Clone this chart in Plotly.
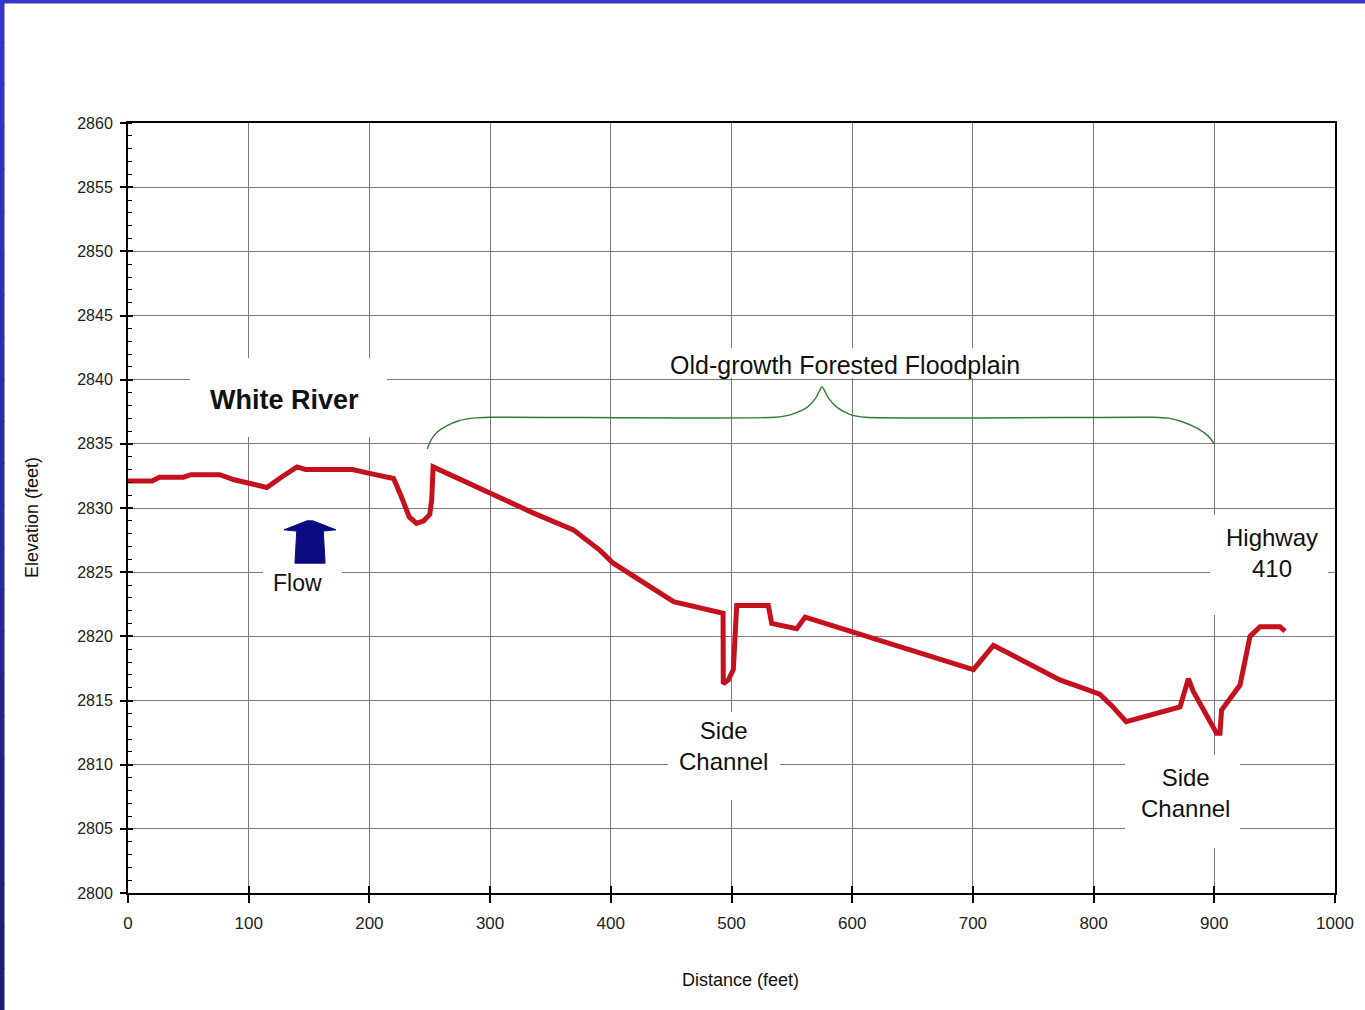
import plotly.graph_objects as go

# ---------------- data ----------------
distance = [0, 20, 26, 46, 52, 76, 88, 102, 115, 127, 140, 147, 186, 200, 220, 226, 233, 239, 245, 250,
            251.6, 252.8, 303, 336, 369, 391, 402, 452, 493, 493.2, 497.4, 501.5, 504.3, 530.5, 533.3,
            554, 561, 598, 700.4, 717, 772, 790, 805, 815, 827, 871.6, 878.5, 882.6, 901.9, 904.7, 906,
            921.3, 929.6, 937.9, 954.4, 958.6]
elevation = [2832.1, 2832.1, 2832.4, 2832.4, 2832.6, 2832.6, 2832.2, 2831.9, 2831.6, 2832.4, 2833.2,
             2833.0, 2833.0, 2832.7, 2832.3, 2831.0, 2829.3, 2828.8, 2829.0, 2829.5,
             2830.6, 2833.2, 2831.0, 2829.6, 2828.3, 2826.7, 2825.7, 2822.7, 2821.8, 2816.3, 2816.6,
             2817.4, 2822.4, 2822.4, 2821.0, 2820.6, 2821.5, 2820.4, 2817.4, 2819.3, 2816.6, 2816.0,
             2815.5, 2814.6, 2813.35, 2814.5, 2816.7, 2815.7, 2812.45, 2812.45, 2814.25, 2816.2, 2820.0,
             2820.75, 2820.75, 2820.4]

brace_x = [248, 251, 256, 264, 274, 286, 300, 536, 550, 562, 570, 575, 580, 588, 598, 611,
           850, 862, 874, 886, 895, 900]
brace_y = [2834.6, 2835.3, 2835.9, 2836.4, 2836.8, 2837.0, 2837.07, 2837.07, 2837.3, 2837.8, 2838.6,
           2839.45, 2838.6, 2837.8, 2837.3, 2837.07, 2837.07, 2837.0, 2836.7, 2836.2, 2835.6, 2835.0]

x_ticks = [0, 100, 200, 300, 400, 500, 600, 700, 800, 900, 1000]
y_ticks = [2800, 2805, 2810, 2815, 2820, 2825, 2830, 2835, 2840, 2845, 2850, 2855, 2860]

# ---------------- layout geometry ----------------
W, H = 1365, 1010
L, R, T, B = 128, 30, 123, 117
PW, PH = W - L - R, H - T - B
X0, X1, Y0, Y1 = 0, 1000, 2800, 2860


def px2x(p):
    return X0 + (p - L) / PW * (X1 - X0)


def py2y(p):
    return Y1 - (p - T) / PH * (Y1 - Y0)


def pxpaper(p):
    return (p - L) / PW


def pypaper(p):
    return (H - B - p) / PH


FONT = "Arial, Liberation Sans, sans-serif"

fig = go.Figure()

fig.add_trace(go.Scatter(x=brace_x, y=brace_y, mode="lines",
                         line=dict(color="#2E7D32", width=1.4, shape="spline", smoothing=0.6),
                         hoverinfo="skip", showlegend=False))
fig.add_trace(go.Scatter(x=distance, y=elevation, mode="lines",
                         line=dict(color="#C4111D", width=5),
                         showlegend=False))
# invisible trace to activate overlay axes (cross ticks)
fig.add_trace(go.Scatter(x=[None], y=[None], xaxis="x2", yaxis="y2", showlegend=False, hoverinfo="skip"))

shapes = []
# white label boxes between gridlines and data
boxes = [(190, 358, 387, 437), (263, 560, 342, 600), (655, 348, 1035, 378),
         (668, 712, 780, 800), (1125, 755, 1240, 848), (1210, 515, 1328, 615)]
for (a, b, c, d) in boxes:
    shapes.append(dict(type="rect", xref="x", yref="y", x0=px2x(a), x1=px2x(c), y0=py2y(d), y1=py2y(b),
                       fillcolor="white", line=dict(width=0), layer="between"))

# flow arrow
ax = 150.8
arrow = [(ax - 2.5, 2829.0), (ax + 2.5, 2829.0), (ax + 21.5, 2828.3), (ax + 11, 2828.2),
         (ax + 12.5, 2825.7), (ax - 12.5, 2825.7), (ax - 11, 2828.2), (ax - 21.5, 2828.3)]
path = "M " + " L ".join(f"{x},{y}" for x, y in arrow) + " Z"
shapes.append(dict(type="path", xref="x", yref="y", path=path, fillcolor="#0B0B80",
                   line=dict(color="#0B0B80", width=1), layer="above"))

# blue frame on left and top
n = 24
for i in range(n):
    t = i / (n - 1)
    r = int(54 + (28 - 54) * t)
    g = int(54 + (28 - 54) * t)
    bcol = int(204 + (114 - 204) * t)
    col = f"rgb({r},{g},{bcol})"
    shapes.append(dict(type="rect", xref="paper", yref="paper",
                       x0=pxpaper(0), x1=pxpaper(4.5),
                       y0=pypaper(H * (i + 1) / n + 1), y1=pypaper(H * i / n),
                       fillcolor=col, line=dict(width=0), layer="above"))
shapes.append(dict(type="rect", xref="paper", yref="paper",
                   x0=pxpaper(0), x1=pxpaper(W), y0=pypaper(3.5), y1=pypaper(0),
                   fillcolor="rgb(54,54,204)", line=dict(width=0), layer="above"))

annotations = []


def note(text, cx, cy, size, bold=False):
    annotations.append(dict(x=px2x(cx), y=py2y(cy), xref="x", yref="y", text=f"<b>{text}</b>" if bold else text,
                            showarrow=False, font=dict(family=FONT, size=size, color="#111"),
                            align="center", xanchor="center", yanchor="middle"))


note("White River", 284, 400, 27, bold=True)
note("Flow", 297, 583, 23)
note("Old-growth Forested Floodplain", 845, 365, 25)
note("Side<br>Channel", 723, 746, 24)
note("Side<br>Channel", 1185, 793, 24)
note("Highway<br>410", 1272, 553, 24)

annotations.append(dict(x=pxpaper(740), y=pypaper(980), xref="paper", yref="paper", text="Distance (feet)",
                        showarrow=False, font=dict(family=FONT, size=18, color="#111"),
                        xanchor="center", yanchor="middle"))
annotations.append(dict(x=pxpaper(32), y=pypaper(518), xref="paper", yref="paper", text="Elevation (feet)",
                        showarrow=False, textangle=-90, font=dict(family=FONT, size=18, color="#111"),
                        xanchor="center", yanchor="middle"))

fig.update_layout(
    width=W, height=H,
    margin=dict(l=L, r=R, t=T, b=B, autoexpand=False),
    paper_bgcolor="white", plot_bgcolor="white",
    showlegend=False,
    shapes=shapes, annotations=annotations,
    xaxis=dict(range=[X0, X1], tickmode="array", tickvals=x_ticks, ticktext=[str(v) for v in x_ticks],
               showgrid=True, gridcolor="#7a7a7a", gridwidth=1.3, zeroline=False,
               showline=True, linecolor="black", linewidth=2, mirror=True,
               ticks="outside", ticklen=8, tickwidth=1.5, tickcolor="black",
               tickfont=dict(family=FONT, size=17, color="#222"), ticklabelstandoff=6),
    yaxis=dict(range=[Y0, Y1], tickmode="array", tickvals=y_ticks, ticktext=[str(v) for v in y_ticks],
               showgrid=True, gridcolor="#7a7a7a", gridwidth=1.3, zeroline=False,
               showline=True, linecolor="black", linewidth=2, mirror=True,
               ticks="outside", ticklen=6, tickwidth=1.5, tickcolor="black",
               minor=dict(dtick=1, ticks="inside", ticklen=4, tickcolor="black", tickwidth=1.2, showgrid=False),
               tickfont=dict(family=FONT, size=16, color="#222"), ticklabelstandoff=4),
    xaxis2=dict(range=[X0, X1], overlaying="x", anchor="y", side="bottom", tickmode="array", tickvals=x_ticks,
                ticks="inside", ticklen=7, tickwidth=1.5, tickcolor="black", showticklabels=False,
                showgrid=False, zeroline=False, showline=False),
    yaxis2=dict(range=[Y0, Y1], overlaying="y", anchor="x", side="left", tickmode="array", tickvals=y_ticks,
                ticks="inside", ticklen=5, tickwidth=1.5, tickcolor="black", showticklabels=False,
                showgrid=False, zeroline=False, showline=False),
)

fig.write_html("out.html", config={"displayModeBar": False},
               post_script="document.body.style.margin='0px';document.body.style.overflow='hidden';")
